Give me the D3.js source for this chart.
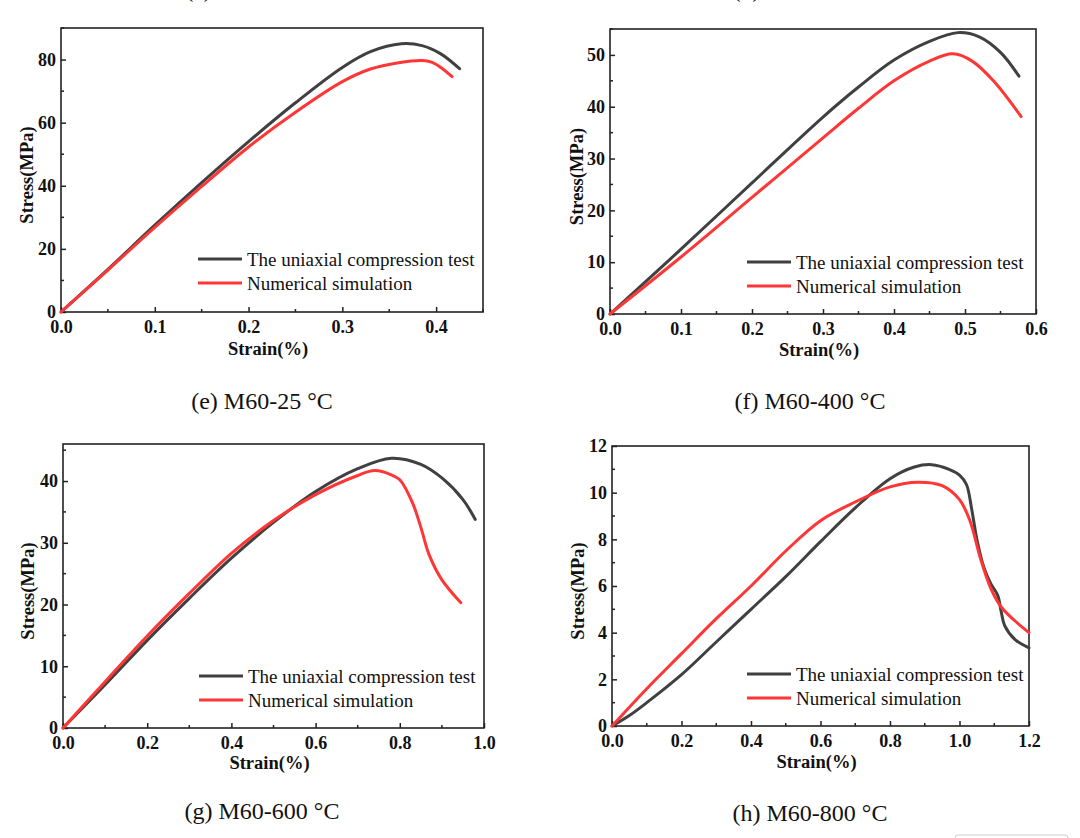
<!DOCTYPE html>
<html>
<head>
<meta charset="utf-8">
<script src="https://d3js.org/d3.v7.min.js"></script>
<style>
  body { margin: 0; background: #fff; }
  svg text { font-family: "Liberation Serif", "Times New Roman", serif; }
</style>
</head>
<body>
<div id="chart"></div>
<script>
// Data: [strain %, stress MPa]
const testE = [[0,0],[0.05,13.5],[0.1,27.5],[0.15,41],[0.2,54],[0.25,66.3],[0.3,77.5],[0.33,82.5],[0.363,85],[0.385,84.4],[0.405,81.8],[0.425,77.1]];
const simE  = [[0,0],[0.05,13.3],[0.1,26.8],[0.15,39.8],[0.2,52.3],[0.25,63.3],[0.3,73],[0.33,77],[0.36,79],[0.385,79.7],[0.395,79.2],[0.405,77.5],[0.417,74.6]];

const testF = [[0,0],[0.1,12.5],[0.2,25.3],[0.3,38],[0.35,43.8],[0.4,49],[0.45,52.6],[0.49,54.3],[0.52,53.5],[0.55,50.5],[0.576,45.9]];
const simF  = [[0,0],[0.1,11],[0.2,22.5],[0.3,34],[0.35,39.7],[0.4,45],[0.45,48.8],[0.483,50.2],[0.51,48.8],[0.54,45],[0.579,38.1]];

const testG = [[0,0],[0.1,7],[0.2,14.2],[0.3,21],[0.4,27.5],[0.5,33.3],[0.6,38.3],[0.7,42],[0.78,43.7],[0.85,42.7],[0.9,40.5],[0.95,37],[0.979,33.8]];
const simG  = [[0,0],[0.1,7.5],[0.2,14.9],[0.3,21.8],[0.4,28.3],[0.5,33.6],[0.6,37.8],[0.7,40.9],[0.74,41.7],[0.78,41],[0.8,40.2],[0.83,36.5],[0.85,32.5],[0.87,28],[0.9,24],[0.945,20.3]];

const testH = [[0,0],[0.05,0.45],[0.1,1.0],[0.2,2.2],[0.3,3.6],[0.4,5.0],[0.5,6.4],[0.6,7.9],[0.7,9.35],[0.8,10.6],[0.87,11.1],[0.92,11.2],[0.97,11.0],[1.0,10.75],[1.02,10.35],[1.035,9.3],[1.05,8.0],[1.07,6.8],[1.09,6.1],[1.11,5.6],[1.12,4.9],[1.13,4.3],[1.16,3.7],[1.2,3.35]];
const simH  = [[0,0],[0.1,1.6],[0.2,3.1],[0.3,4.6],[0.4,6.0],[0.5,7.5],[0.6,8.8],[0.7,9.6],[0.8,10.25],[0.88,10.45],[0.95,10.3],[1.0,9.7],[1.03,8.8],[1.06,7.2],[1.09,5.9],[1.12,5.1],[1.16,4.5],[1.2,4.0]];

// Tick values
const xTicksE = [0, 0.1, 0.2, 0.3, 0.4];
const yTicksE = [0, 20, 40, 60, 80];
const xTicksF = [0, 0.1, 0.2, 0.3, 0.4, 0.5, 0.6];
const yTicksF = [0, 10, 20, 30, 40, 50];
const xTicksG = [0, 0.2, 0.4, 0.6, 0.8, 1.0];
const yTicksG = [0, 10, 20, 30, 40];
const xTicksH = [0, 0.2, 0.4, 0.6, 0.8, 1.0, 1.2];
const yTicksH = [0, 2, 4, 6, 8, 10, 12];

const seriesNames = ["The uniaxial compression test", "Numerical simulation"];
const colors = ["#404040", "#ff3636"];

const width = 1080;
const height = 838;

const svg = d3.select("#chart")
  .append("svg")
  .attr("width", width)
  .attr("height", height);

// Panel layout (pixel boxes of each plot frame)
const panels = [
  { caption: "(e) M60-25 °C",  box: [61, 28, 483, 312],  xDom: [0, 0.45], yDom: [0, 90], xTicks: xTicksE, yTicks: yTicksE, xMinor: 0.05, yMinor: 10, series: [testE, simE], capX: 262, capY: 409, xlabY: 355, ylabX: 33, legX: 198, legY: 259 },
  { caption: "(f) M60-400 °C", box: [610, 29, 1036, 314], xDom: [0, 0.6],  yDom: [0, 55], xTicks: xTicksF, yTicks: yTicksF, xMinor: 0.05, yMinor: 5,  series: [testF, simF], capX: 810, capY: 409, xlabY: 356, ylabX: 583, legX: 747, legY: 262 },
  { caption: "(g) M60-600 °C", box: [63, 444, 484, 728], xDom: [0, 1.0],  yDom: [0, 46], xTicks: xTicksG, yTicks: yTicksG, xMinor: 0.1,  yMinor: 5,  series: [testG, simG], capX: 262, capY: 819, xlabY: 769, ylabX: 34, legX: 199, legY: 676 },
  { caption: "(h) M60-800 °C", box: [612, 446, 1029, 726], xDom: [0, 1.2], yDom: [0, 12], xTicks: xTicksH, yTicks: yTicksH, xMinor: 0.1,  yMinor: 1,  series: [testH, simH], capX: 810, capY: 821, xlabY: 768, ylabX: 584, legX: 747, legY: 674 }
];

panels.forEach(p => {
  const [x0, y0, x1, y1] = p.box;
  const x = d3.scaleLinear().domain(p.xDom).range([x0, x1]);
  const y = d3.scaleLinear().domain(p.yDom).range([y1, y0]);

  const g = svg.append("g");

  // minor ticks (inward)
  const xm = d3.range(p.xDom[0] + p.xMinor, p.xDom[1] + 1e-9, p.xMinor)
    .filter(v => !p.xTicks.some(t => Math.abs(t - v) < 1e-6));
  const ym = d3.range(p.yDom[0] + p.yMinor, p.yDom[1] + 1e-9, p.yMinor)
    .filter(v => !p.yTicks.some(t => Math.abs(t - v) < 1e-6));

  g.selectAll(".xminor").data(xm).enter().append("line")
    .attr("x1", d => x(d)).attr("x2", d => x(d))
    .attr("y1", y1).attr("y2", y1 - 3)
    .attr("stroke", "#222").attr("stroke-width", 1.5);
  g.selectAll(".yminor").data(ym).enter().append("line")
    .attr("x1", x0).attr("x2", x0 + 3)
    .attr("y1", d => y(d)).attr("y2", d => y(d))
    .attr("stroke", "#222").attr("stroke-width", 1.5);

  // axes
  const xAxis = d3.axisBottom(x)
    .tickValues(p.xTicks)
    .tickSizeInner(-5)
    .tickSizeOuter(0)
    .tickPadding(8)
    .tickFormat(d3.format(".1f"));
  const yAxis = d3.axisLeft(y)
    .tickValues(p.yTicks)
    .tickSizeInner(-5)
    .tickSizeOuter(0)
    .tickPadding(5)
    .tickFormat(d => d);

  const gx = g.append("g").attr("transform", `translate(0,${y1})`).call(xAxis);
  const gy = g.append("g").attr("transform", `translate(${x0},0)`).call(yAxis);
  [gx, gy].forEach(a => {
    a.select(".domain").remove();
    a.selectAll(".tick line").attr("stroke", "#222").attr("stroke-width", 1.5);
    a.selectAll(".tick text")
      .attr("font-family", "Liberation Serif")
      .attr("font-weight", "bold")
      .attr("font-size", "18px")
      .attr("fill", "#111");
  });

  // frame
  g.append("rect")
    .attr("x", x0).attr("y", y0)
    .attr("width", x1 - x0).attr("height", y1 - y0)
    .attr("fill", "none")
    .attr("stroke", "#222")
    .attr("stroke-width", 1.6);

  // curves
  const line = d3.line()
    .x(d => x(d[0]))
    .y(d => y(d[1]))
    .curve(d3.curveCatmullRom.alpha(0.5));

  p.series.forEach((s, i) => {
    g.append("path")
      .datum(s)
      .attr("d", line)
      .attr("fill", "none")
      .attr("stroke", colors[i])
      .attr("stroke-width", 3)
      .attr("stroke-linecap", "round");
  });

  // legend
  seriesNames.forEach((name, i) => {
    const ly = p.legY + i * 24;
    g.append("line")
      .attr("x1", p.legX).attr("x2", p.legX + 44)
      .attr("y1", ly).attr("y2", ly)
      .attr("stroke", colors[i])
      .attr("stroke-width", 3);
    g.append("text")
      .attr("x", p.legX + 49)
      .attr("y", ly + 7)
      .attr("font-size", "19px")
      .attr("fill", "#111")
      .text(name);
  });

  // axis titles
  g.append("text")
    .attr("x", (x0 + x1) / 2 - 4)
    .attr("y", p.xlabY)
    .attr("text-anchor", "middle")
    .attr("font-weight", "bold")
    .attr("font-size", "18.5px")
    .attr("fill", "#111")
    .text("Strain(%)");

  g.append("text")
    .attr("transform", `translate(${p.ylabX},${(y0 + y1) / 2 + 5}) rotate(-90)`)
    .attr("text-anchor", "middle")
    .attr("font-weight", "bold")
    .attr("font-size", "18.5px")
    .attr("fill", "#111")
    .text("Stress(MPa)");

  // caption
  g.append("text")
    .attr("x", p.capX)
    .attr("y", p.capY)
    .attr("text-anchor", "middle")
    .attr("font-size", "24px")
    .attr("fill", "#111")
    .text(p.caption);
});

// captions of the previous row, cut off at the top edge
svg.append("text")
  .attr("x", 262).attr("y", -3)
  .attr("text-anchor", "middle")
  .attr("font-size", "24px")
  .attr("fill", "#111")
  .text("(c) M30-600 °C");
svg.append("text")
  .attr("x", 810).attr("y", -3)
  .attr("text-anchor", "middle")
  .attr("font-size", "24px")
  .attr("fill", "#111")
  .text("(d) M30-800 °C");

// small box in the bottom-right corner
svg.append("rect")
  .attr("x", 955).attr("y", 835)
  .attr("width", 113).attr("height", 12)
  .attr("rx", 3)
  .attr("fill", "none")
  .attr("stroke", "#ccc")
  .attr("stroke-width", 1);
</script>
</body>
</html>
